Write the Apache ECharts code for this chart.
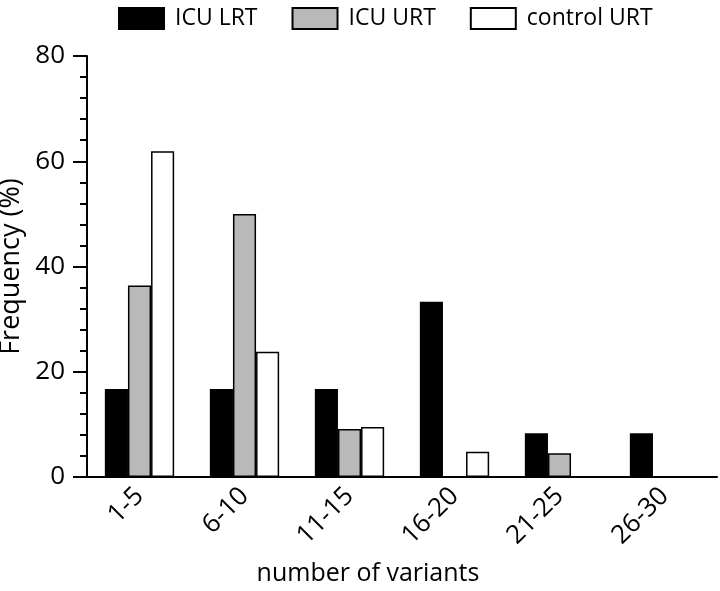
<!DOCTYPE html>
<html>
<head>
<meta charset="utf-8">
<script src="https://cdn.jsdelivr.net/npm/echarts@6/dist/echarts.min.js"></script>
<style>html,body{margin:0;padding:0;background:#fff}#c{width:720px;height:591px}</style>
</head>
<body>
<div id="c"></div>
<script>
var categories = ['1-5', '6-10', '11-15', '16-20', '21-25', '26-30'];
var icuLRT = [16.7, 16.7, 16.7, 33.3, 8.3, 8.3];
var icuURT = [36.4, 50.0, 9.1, 0, 4.5, 0];
var controlURT = [61.9, 23.8, 9.5, 4.8, 0, 0];
var seriesNames = ['ICU LRT', 'ICU URT', 'control URT'];
var yTicks = [0, 20, 40, 60, 80];

var FONT = 'Open Sans';
var chart = echarts.init(document.getElementById('c'), null, {renderer: 'canvas'});
function bar(name, data, color) {
  return {
    name: name, type: 'bar', data: data,
    barGap: '0%', barCategoryGap: '34%',
    itemStyle: {color: color, borderColor: '#000', borderWidth: 1.5},
    emphasis: {disabled: true}
  };
}
chart.setOption({
  animation: false,
  backgroundColor: '#fff',
  textStyle: {fontFamily: FONT, color: '#000'},
  legend: {
    left: 113, top: 2, itemWidth: 45, itemHeight: 21, itemGap: 34, icon: 'rect',
    textStyle: {fontFamily: FONT, fontSize: 23, color: '#000', padding: [0, 0, 0, 6]},
    data: seriesNames
  },
  grid: {left: 87, right: 3, top: 56, bottom: 114, containLabel: false, outerBoundsMode: 'none'},
  xAxis: {
    type: 'category', data: categories,
    name: 'number of variants', nameLocation: 'middle', nameGap: 84,
    nameTextStyle: {fontFamily: FONT, fontSize: 25, color: '#000', padding: [0, 68, 0, 0]},
    axisLine: {lineStyle: {color: '#000', width: 2}},
    axisTick: {alignWithLabel: true, length: 12, lineStyle: {color: '#000', width: 2}},
    axisLabel: {rotate: 45, margin: 15, fontFamily: FONT, fontSize: 26, color: '#000'}
  },
  yAxis: {
    type: 'value', min: yTicks[0], max: yTicks[yTicks.length - 1], interval: 20,
    name: 'Frequency (%)', nameLocation: 'middle', nameGap: 51,
    nameTextStyle: {fontFamily: FONT, fontSize: 27, color: '#000'},
    axisLine: {show: true, lineStyle: {color: '#000', width: 2}},
    axisTick: {show: true, length: 14, lineStyle: {color: '#000', width: 2}},
    minorTick: {show: true, splitNumber: 5, length: 7, lineStyle: {color: '#000', width: 2}},
    splitLine: {show: false},
    axisLabel: {margin: 22, fontFamily: FONT, fontSize: 26, color: '#000'}
  },
  series: [
    bar(seriesNames[0], icuLRT, '#000000'),
    bar(seriesNames[1], icuURT, '#b9b9b9'),
    bar(seriesNames[2], controlURT, '#ffffff')
  ]
});
</script>
</body>
</html>
